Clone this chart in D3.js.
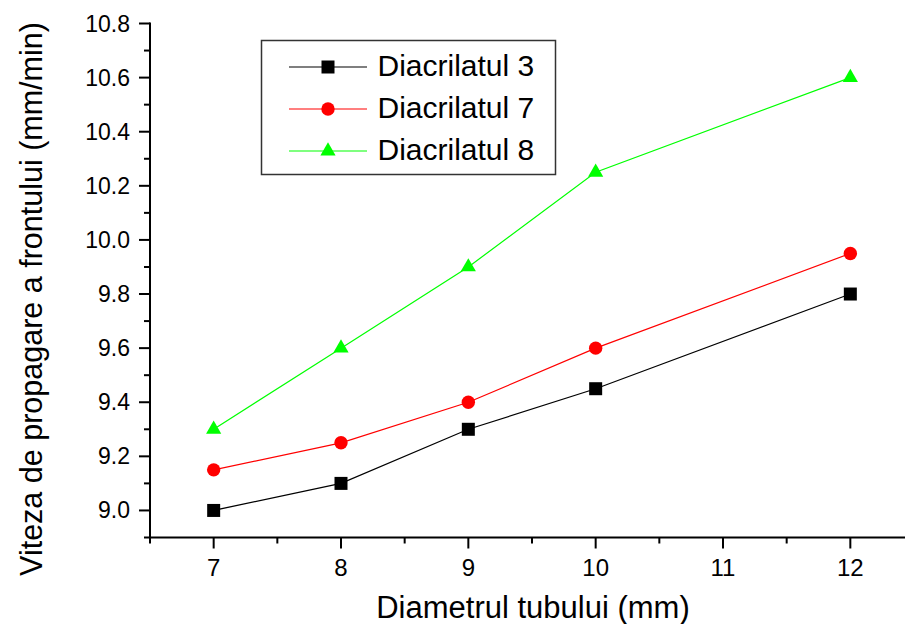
<!DOCTYPE html>
<html><head><meta charset="utf-8">
<script src="https://cdn.jsdelivr.net/npm/d3@7"></script>
<style>body{margin:0;background:#fff}svg{display:block}</style>
</head><body>
<svg id="c" width="905" height="624"></svg>
<script>
const xValues = [7, 8, 9, 10, 12];
const seriesNames = ["Diacrilatul 3", "Diacrilatul 7", "Diacrilatul 8"];
const diacrilatul3 = [9.0, 9.1, 9.3, 9.45, 9.8];
const diacrilatul7 = [9.15, 9.25, 9.4, 9.6, 9.95];
const diacrilatul8 = [9.3, 9.6, 9.9, 10.25, 10.6];
const xTicks = [7, 8, 9, 10, 11, 12];
const yTicks = [9.0, 9.2, 9.4, 9.6, 9.8, 10.0, 10.2, 10.4, 10.6, 10.8];
const xTitle = "Diametrul tubului (mm)";
const yTitle = "Viteza de propagare a frontului (mm/min)";

const colors = ["#000000", "#ff0000", "#00ff00"];
const symbols = [d3.symbolSquare, d3.symbolCircle, d3.symbolTriangle];
const symSizes = [169, 141, 100];
const series = [diacrilatul3, diacrilatul7, diacrilatul8];

const svg = d3.select("#c");
const font = "Arial, 'Liberation Sans', sans-serif";
const x = d3.scaleLinear().domain([6.5, 12.5]).range([150, 914]);
const y = d3.scaleLinear().domain([8.9, 10.8]).range([537.5, 23.5]);

// axes
const xMinor = d3.range(6.5, 12.51, 0.5).filter(v => !xTicks.includes(v));
const yMinor = d3.range(8.9, 10.75, 0.2).map(v => +v.toFixed(1));

const ax = svg.append("g").attr("stroke", "#000").attr("stroke-width", 2);
ax.append("line").attr("x1", x(6.5)).attr("x2", 905).attr("y1", y(8.9)).attr("y2", y(8.9));
ax.append("line").attr("x1", x(6.5)).attr("x2", x(6.5)).attr("y1", y(8.9)+1).attr("y2", y(10.8)-1);
xTicks.forEach(v => ax.append("line").attr("x1", x(v)).attr("x2", x(v)).attr("y1", y(8.9)).attr("y2", y(8.9)+11));
xMinor.forEach(v => ax.append("line").attr("x1", x(v)).attr("x2", x(v)).attr("y1", y(8.9)).attr("y2", y(8.9)+6));
yTicks.forEach(v => ax.append("line").attr("x1", x(6.5)).attr("x2", x(6.5)-11).attr("y1", y(v)).attr("y2", y(v)));
yMinor.forEach(v => ax.append("line").attr("x1", x(6.5)).attr("x2", x(6.5)-6).attr("y1", y(v)).attr("y2", y(v)));

svg.append("g").selectAll("text").data(xTicks).join("text")
  .attr("x", d => x(d)).attr("y", 576).attr("text-anchor", "middle")
  .attr("font-family", font).attr("font-size", 24).text(d => d);
svg.append("g").selectAll("text").data(yTicks).join("text")
  .attr("x", 130).attr("y", d => y(d) + 8).attr("text-anchor", "end")
  .attr("font-family", font).attr("font-size", 23).text(d => d.toFixed(1));

svg.append("text").attr("x", 533).attr("y", 618).attr("text-anchor", "middle")
  .attr("font-family", font).attr("font-size", 31).text(xTitle);
svg.append("text").attr("transform", "translate(42,299) rotate(-90)").attr("text-anchor", "middle")
  .attr("font-family", font).attr("font-size", 30.5).text(yTitle);

// series
const line = d3.line().x((d, i) => x(xValues[i])).y(d => y(d));
series.forEach((s, k) => {
  svg.append("path").datum(s).attr("d", line).attr("fill", "none")
    .attr("stroke", colors[k]).attr("stroke-width", 1.2);
  svg.append("g").selectAll("path").data(s).join("path")
    .attr("transform", (d, i) => `translate(${x(xValues[i])},${y(d)})`)
    .attr("d", d3.symbol().type(symbols[k]).size(symSizes[k])).attr("fill", colors[k]);
});

// legend
const lg = svg.append("g");
lg.append("rect").attr("x", 261.5).attr("y", 40.5).attr("width", 294).attr("height", 134)
  .attr("fill", "#fff").attr("stroke", "#333").attr("stroke-width", 1.5);
const rows = [67, 109, 151];
seriesNames.forEach((n, k) => {
  lg.append("line").attr("x1", 289).attr("x2", 367).attr("y1", rows[k]).attr("y2", rows[k])
    .attr("stroke", colors[k]).attr("stroke-width", 1.2);
  lg.append("path").attr("transform", `translate(328,${rows[k]})`)
    .attr("d", d3.symbol().type(symbols[k]).size(symSizes[k])).attr("fill", colors[k]);
  lg.append("text").attr("x", 377.5).attr("y", rows[k] + 9).attr("font-family", font)
    .attr("font-size", 30).text(n);
});
</script>
</body></html>
